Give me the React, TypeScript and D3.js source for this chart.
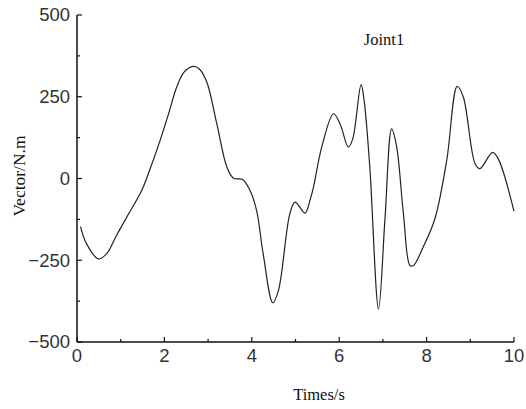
import React, { useEffect, useRef } from 'react';
import * as d3 from 'd3';

// torque curve
const times = [0.08, 0.22, 0.49, 0.68, 0.9, 1.14, 1.48, 1.63, 1.9, 2.1, 2.28, 2.45, 2.66, 2.8, 2.97, 3.2, 3.43, 3.58, 3.79, 3.96, 4.11, 4.26, 4.48, 4.61, 4.87, 4.99, 5.22, 5.33, 5.41, 5.6, 5.87, 6.02, 6.21, 6.31, 6.5, 6.57, 6.7, 6.9, 7.05, 7.2, 7.31, 7.47, 7.62, 7.7, 7.92, 8.19, 8.46, 8.7, 8.84, 9.11, 9.22, 9.51, 9.64, 10.0];
const torque = [-147, -200, -246, -230, -175, -118, -37, 14, 116, 200, 279, 325, 343, 335, 295, 167, 35, 1, -3, -37, -98, -230, -380, -342, -108, -72, -106, -67, -27, 96, 198, 167, 96, 121, 287, 239, 35, -399, -118, 152, 101, -108, -266, -266, -210, -123, 55, 282, 249, 45, 30, 80, 60, -100];

const xTicks = [0, 2, 4, 6, 8, 10];
const xMinor = [1, 3, 5, 7, 9];
const yTicks = [-500, -250, 0, 250, 500];
const yMinor = [-375, -125, 125, 375];

const W = 526, H = 409;

function App() {
  const ref = useRef<SVGSVGElement>(null);

  useEffect(() => {
    const svg = d3.select(ref.current);
    svg.selectAll('*').remove();

    const x = d3.scaleLinear().domain([0, 10]).range([77, 514]);
    const y = d3.scaleLinear().domain([-500, 500]).range([342, 15]);

    const g = svg.append('g');

    // line
    const data = times.map((t, i) => [t, torque[i]] as [number, number]);
    const line = d3.line<[number, number]>()
      .x(d => x(d[0]))
      .y(d => y(d[1]))
      .curve(d3.curveCatmullRom.alpha(0.5));
    g.append('path')
      .attr('d', line(data))
      .attr('fill', 'none')
      .attr('stroke', '#222')
      .attr('stroke-width', 1.2);

    // axes (ticks point inward)
    const yAxis = g.append('g').attr('transform', `translate(${x(0)},0)`);
    yAxis.append('line').attr('y1', y(-500)).attr('y2', y(500)).attr('stroke', '#111').attr('stroke-width', 1.5);
    yTicks.forEach(v => {
      yAxis.append('line').attr('x1', 0).attr('x2', 5).attr('y1', y(v)).attr('y2', y(v)).attr('stroke', '#111').attr('stroke-width', 1.2);
      yAxis.append('text')
        .attr('x', -7).attr('y', y(v)).attr('dy', '0.35em')
        .attr('text-anchor', 'end')
        .style('font-family', 'Liberation Sans, Arial, sans-serif')
        .style('font-size', '18.5px')
        .attr('fill', '#333')
        .text(d3.format('d')(v));
    });
    yMinor.forEach(v => {
      yAxis.append('line').attr('x1', 0).attr('x2', 3).attr('y1', y(v)).attr('y2', y(v)).attr('stroke', '#111').attr('stroke-width', 1.2);
    });

    const xAxis = g.append('g').attr('transform', `translate(0,${y(-500)})`);
    xAxis.append('line').attr('x1', x(0)).attr('x2', x(10)).attr('stroke', '#111').attr('stroke-width', 1.5);
    xTicks.forEach(v => {
      xAxis.append('line').attr('x1', x(v)).attr('x2', x(v)).attr('y1', 0).attr('y2', -5).attr('stroke', '#111').attr('stroke-width', 1.2);
      xAxis.append('text')
        .attr('x', x(v)).attr('y', 14).attr('dy', '0.35em')
        .attr('text-anchor', 'middle')
        .style('font-family', 'Liberation Sans, Arial, sans-serif')
        .style('font-size', '18.5px')
        .attr('fill', '#333')
        .text(v);
    });
    xMinor.forEach(v => {
      xAxis.append('line').attr('x1', x(v)).attr('x2', x(v)).attr('y1', 0).attr('y2', -3).attr('stroke', '#111').attr('stroke-width', 1.2);
    });

    // labels
    g.append('text')
      .attr('x', 319).attr('y', 400)
      .attr('text-anchor', 'middle')
      .style('font-family', 'Liberation Serif, Times New Roman, serif')
      .style('font-size', '16.5px')
      .attr('fill', '#111')
      .text('Times/s');

    g.append('text')
      .attr('transform', 'translate(25,176) rotate(-90)')
      .attr('text-anchor', 'middle')
      .style('font-family', 'Liberation Serif, Times New Roman, serif')
      .style('font-size', '17.5px')
      .attr('fill', '#111')
      .text('Vector/N.m');

    g.append('text')
      .attr('x', 384).attr('y', 45)
      .attr('text-anchor', 'middle')
      .style('font-family', 'Liberation Serif, Times New Roman, serif')
      .style('font-size', '16.5px')
      .attr('fill', '#111')
      .text('Joint1');
  }, []);

  return (
    <svg ref={ref} width={W} height={H}
      style={{ position: 'absolute', left: 0, top: 0, background: '#fff' }} />
  );
}

export default App;
